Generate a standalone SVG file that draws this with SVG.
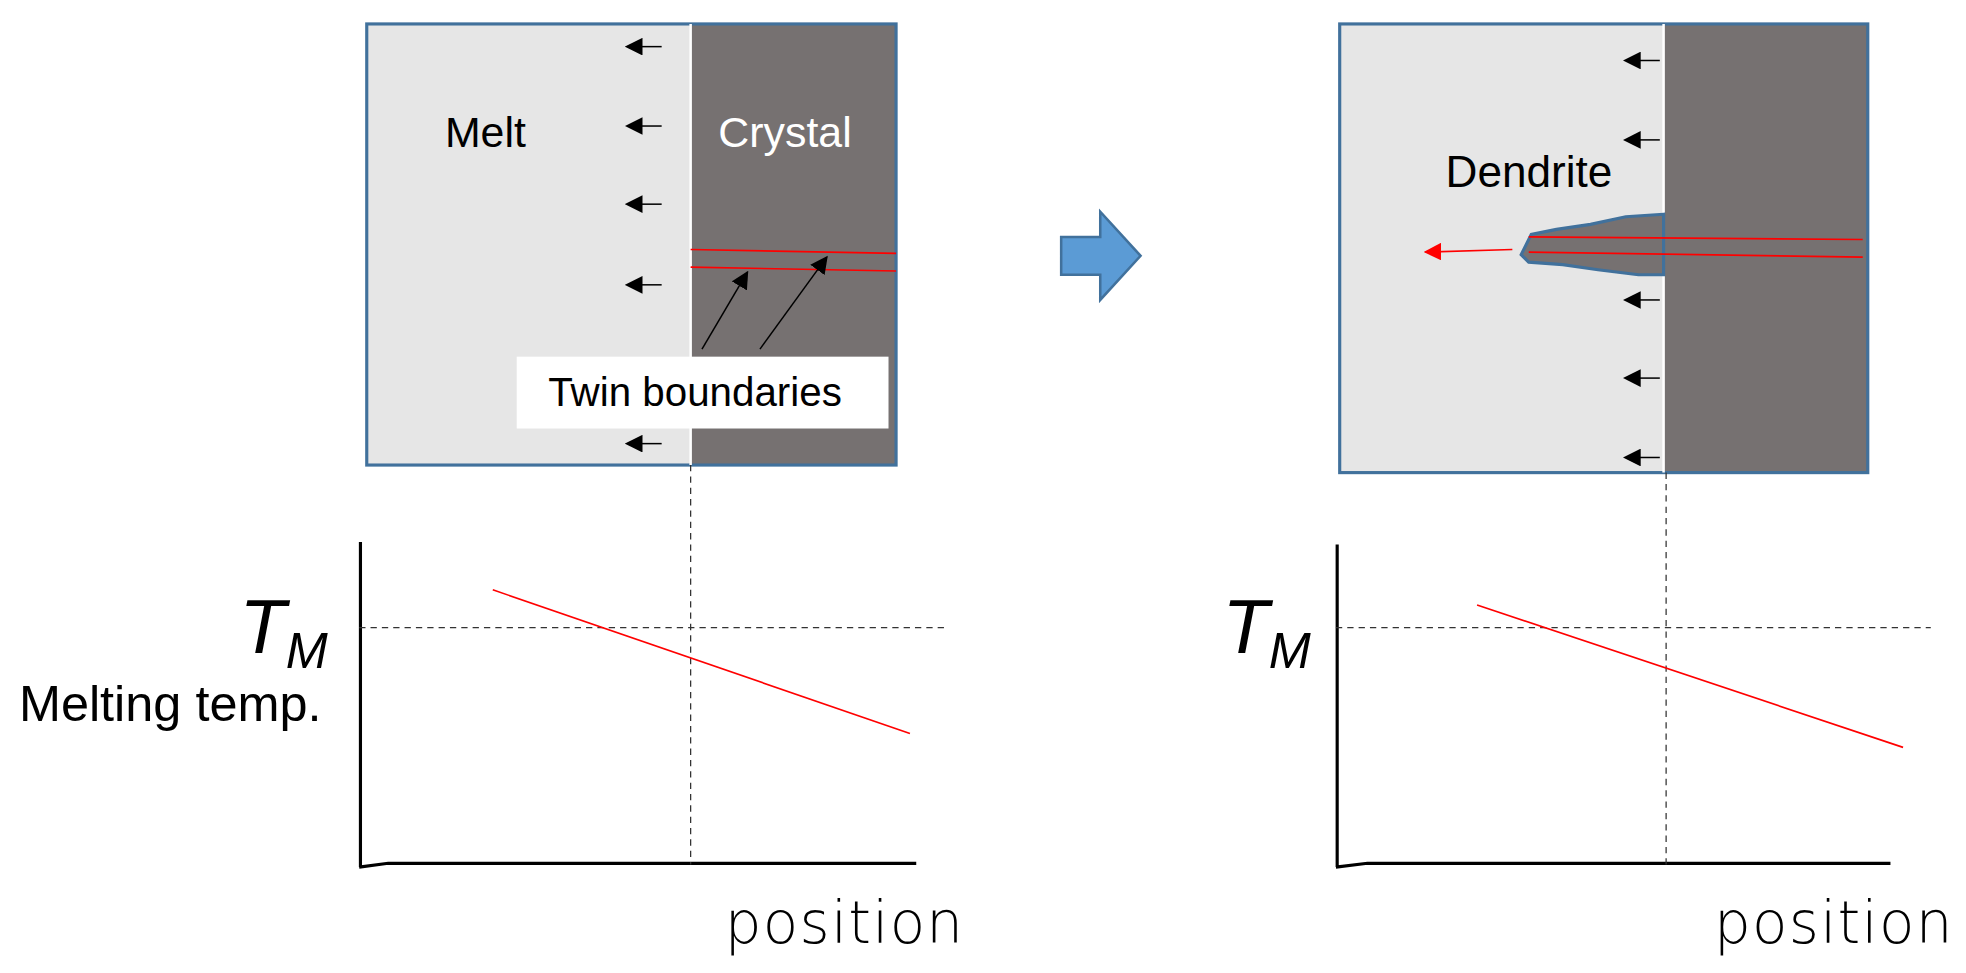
<svg xmlns="http://www.w3.org/2000/svg" width="1966" height="973" viewBox="0 0 1966 973">
<defs>
<marker id="ab" viewBox="0 0 10 10" refX="9" refY="5" markerWidth="14" markerHeight="14" markerUnits="userSpaceOnUse" orient="auto"><path d="M0,0L10,5L0,10z" fill="#000"/></marker>
<marker id="ar" viewBox="0 0 10 10" refX="9" refY="5" markerWidth="14" markerHeight="14" markerUnits="userSpaceOnUse" orient="auto"><path d="M0,0L10,5L0,10z" fill="#f00"/></marker>
<marker id="sm" viewBox="0 0 10 10" refX="2" refY="5" markerWidth="14" markerHeight="14" markerUnits="userSpaceOnUse" orient="auto"><path d="M0,0L10,5L0,10z" fill="#000"/></marker>
</defs>
<style>
text{font-family:"Liberation Sans",Arial,sans-serif;fill:#000}
.box{stroke:#41719c;stroke-width:2.5}
.ax{stroke:#000;stroke-width:2.5;fill:none}
.dash{stroke:#333;stroke-width:1;stroke-dasharray:5,4;fill:none}
.red{stroke:#f00;stroke-width:1.3;fill:none}
.pos{font-size:46px;font-family:"DejaVu Sans",sans-serif;font-weight:200;letter-spacing:1px}
.tm{font-size:60px;font-style:italic}
.sub{font-size:40px;font-style:italic}
</style>
<g transform="scale(1.2603)">
<g id="left-box">
<rect x="291" y="19" width="257" height="350" fill="#e6e6e6"/>
<rect x="548" y="19" width="163" height="350" fill="#767171"/>
<rect x="291" y="19" width="420" height="350" fill="none" class="box"/>
<line x1="548" y1="19" x2="548" y2="369" stroke="#fff" stroke-width="2"/>
<text x="353" y="117" font-size="34">Melt</text>
<text x="570" y="117" font-size="34" style="fill:#fff">Crystal</text>
<line x1="548" y1="198" x2="711" y2="201" class="red"/>
<line x1="548" y1="212" x2="711" y2="215" class="red"/>
</g>
<g id="left-front-arrows" stroke="#000" stroke-width="1.2">
<line x1="525" y1="37" x2="507" y2="37" marker-end="url(#sm)"/>
<line x1="525" y1="100" x2="507" y2="100" marker-end="url(#sm)"/>
<line x1="525" y1="162" x2="507" y2="162" marker-end="url(#sm)"/>
<line x1="525" y1="226" x2="507" y2="226" marker-end="url(#sm)"/>
<line x1="525" y1="352" x2="507" y2="352" marker-end="url(#sm)"/>
</g>
<g id="twin-label">
<line x1="557" y1="277" x2="593" y2="216" stroke="#000" stroke-width="1.2" marker-end="url(#ab)"/>
<line x1="603" y1="277" x2="656" y2="204" stroke="#000" stroke-width="1.2" marker-end="url(#ab)"/>
<rect x="410" y="283" width="295" height="57" fill="#fff"/>
<text x="435" y="322" font-size="32">Twin boundaries</text>
</g>
<g id="big-arrow">
<path d="M842,188H873V168L905,203L873,238V218H842z" fill="#5b9bd5" stroke="#41719c" stroke-width="2"/>
</g>
<g id="right-box">
<rect x="1063" y="19" width="257" height="356" fill="#e6e6e6"/>
<rect x="1320" y="19" width="162" height="356" fill="#767171"/>
<rect x="1063" y="19" width="419" height="356" fill="none" class="box"/>
<line x1="1320" y1="19" x2="1320" y2="375" stroke="#fff" stroke-width="2"/>
<text x="1147" y="148" font-size="35">Dendrite</text>
<path d="M1320,170L1290,172L1262,178L1235,182L1215,186L1207,202L1213,208L1240,210L1268,214L1300,218L1320,218z" fill="#767171" stroke="#41719c" stroke-width="2.5"/>
<line x1="1213" y1="188" x2="1478" y2="190" class="red"/>
<line x1="1213" y1="200" x2="1478" y2="204" class="red"/>
<line x1="1200" y1="198" x2="1131" y2="200" class="red" marker-end="url(#ar)"/>
</g>
<g id="right-front-arrows" stroke="#000" stroke-width="1.2">
<line x1="1317" y1="48" x2="1299" y2="48" marker-end="url(#sm)"/>
<line x1="1317" y1="111" x2="1299" y2="111" marker-end="url(#sm)"/>
<line x1="1317" y1="238" x2="1299" y2="238" marker-end="url(#sm)"/>
<line x1="1317" y1="300" x2="1299" y2="300" marker-end="url(#sm)"/>
<line x1="1317" y1="363" x2="1299" y2="363" marker-end="url(#sm)"/>
</g>
<g id="left-chart">
<path d="M286,430V688M285,688L308,685H727" class="ax"/>
<line x1="285" y1="498" x2="752" y2="498" class="dash"/>
<line x1="548" y1="369" x2="548" y2="686" class="dash"/>
<line x1="391" y1="468" x2="722" y2="582" class="red"/>
<text x="190" y="518" class="tm">T<tspan class="sub" dy="12">M</tspan></text>
<text x="15" y="572" font-size="40">Melting temp.</text>
<text x="575" y="748" class="pos">position</text>
</g>
<g id="right-chart">
<path d="M1061,432V688M1060,688L1085,685H1500" class="ax"/>
<line x1="1060" y1="498" x2="1532" y2="498" class="dash"/>
<line x1="1322" y1="375" x2="1322" y2="686" class="dash"/>
<line x1="1172" y1="480" x2="1510" y2="593" class="red"/>
<text x="970" y="518" class="tm">T<tspan class="sub" dy="12">M</tspan></text>
<text x="1360" y="748" class="pos">position</text>
</g>
</g>
</svg>
